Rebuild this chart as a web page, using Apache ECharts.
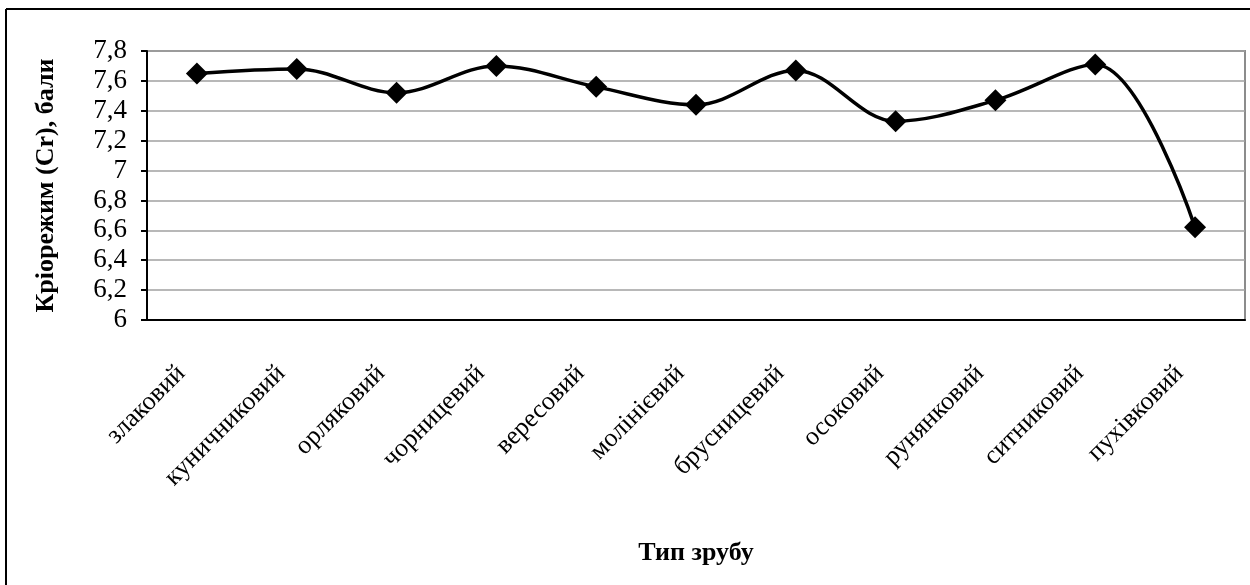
<!DOCTYPE html>
<html>
<head>
<meta charset="utf-8">
<script src="https://cdn.jsdelivr.net/npm/echarts@6/dist/echarts.min.js"></script>
<style>
html,body{margin:0;padding:0;background:#fff;}
#chart{width:1250px;height:585px;}
</style>
</head>
<body>
<div id="chart"></div>
<script>
const categories = ['злаковий','куничниковий','орляковий','чорницевий','вересовий','молінієвий','брусницевий','осоковий','рунянковий','ситниковий','пухівковий'];
const values = [7.65, 7.68, 7.52, 7.70, 7.56, 7.44, 7.67, 7.33, 7.47, 7.71, 6.62];
const yMin = 6, yMax = 7.8, yStep = 0.2;
const xTitle = 'Тип зрубу';
const yTitle = 'Кріорежим (Cr), бали';

const FONT = '"Liberation Serif", "Times New Roman", serif';
const chart = echarts.init(document.getElementById('chart'), null, {renderer: 'canvas'});
chart.setOption({
  animation: false,
  backgroundColor: '#fff',
  grid: {left: 147, right: 5, top: 51, bottom: 265, show: true, borderColor: '#8c8c8c', borderWidth: 2, containLabel: false},
  graphic: [
    {type: 'line', shape: {x1: 6, y1: 9, x2: 1250, y2: 9}, style: {stroke: '#000', lineWidth: 2}},
    {type: 'line', shape: {x1: 6, y1: 9, x2: 6, y2: 585}, style: {stroke: '#000', lineWidth: 2}}
  ],
  xAxis: {
    type: 'category',
    data: categories,
    boundaryGap: true,
    name: xTitle,
    nameLocation: 'middle',
    nameGap: 220,
    nameTextStyle: {fontFamily: FONT, fontSize: 26, fontWeight: 'bold', color: '#000', verticalAlign: 'top'},
    axisLine: {lineStyle: {color: '#000', width: 2}},
    axisTick: {alignWithLabel: false, length: 10, lineStyle: {color: '#000', width: 2}},
    axisLabel: {rotate: 45, margin: 34, padding: [0, 22, 0, 0], fontFamily: FONT, fontSize: 26, color: '#000', interval: 0},
    splitLine: {show: false}
  },
  yAxis: {
    type: 'value',
    min: yMin, max: yMax, interval: yStep,
    name: yTitle,
    nameLocation: 'middle',
    nameRotate: 90,
    nameGap: 88,
    nameTextStyle: {fontFamily: FONT, fontSize: 26, fontWeight: 'bold', color: '#000'},
    axisLine: {show: true, lineStyle: {color: '#000', width: 2}},
    axisTick: {show: true, length: 6, lineStyle: {color: '#000', width: 2}},
    axisLabel: {margin: 20, fontFamily: FONT, fontSize: 27, color: '#000',
      formatter: v => (Math.round(v * 10) / 10).toString().replace('.', ',')},
    splitLine: {lineStyle: {color: '#a0a0a0', width: 1.5, type: 'solid'}}
  },
  series: [{
    type: 'line',
    data: values,
    smooth: 0.35,
    symbol: 'diamond',
    symbolSize: 22,
    itemStyle: {color: '#000'},
    lineStyle: {color: '#000', width: 3.5}
  }]
});
</script>
</body>
</html>
